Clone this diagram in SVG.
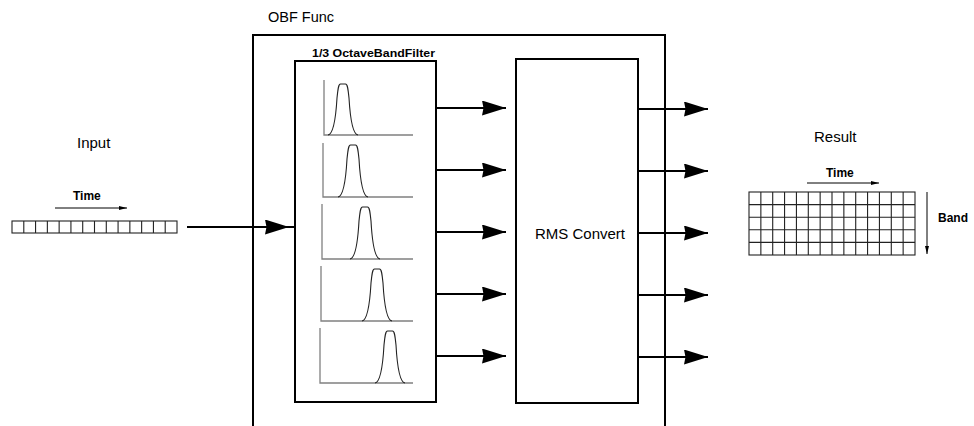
<svg xmlns="http://www.w3.org/2000/svg" width="974" height="426" viewBox="0 0 974 426">
<style>
text{font-family:"Liberation Sans",Arial,sans-serif;fill:#000}
.lbl{font-size:15px}
.sm{font-size:12px;font-weight:bold}
.box{fill:none;stroke:#000;stroke-width:2}
.cell{fill:none;stroke:#222;stroke-width:1.1}
.axis{fill:none;stroke:#808080;stroke-width:1.3}
.bell{fill:none;stroke:#222;stroke-width:1.1}
.conn{fill:none;stroke:#000;stroke-width:2}
.thin{fill:none;stroke:#000;stroke-width:1}
</style>
<defs>
<marker id="big" viewBox="0 0 24 15" refX="24" refY="7.5" markerWidth="24" markerHeight="15" markerUnits="userSpaceOnUse" orient="auto">
<path d="M0,0 L24,7.5 L0,15 L1.5,7.5 z" fill="#000"/>
</marker>
<marker id="small" viewBox="0 0 8 4" refX="8" refY="2" markerWidth="8" markerHeight="4" markerUnits="userSpaceOnUse" orient="auto">
<path d="M0,0 L8,2 L0,4 z" fill="#000"/>
</marker>
</defs>

<g id="input">
<text class="lbl" x="77" y="148">Input</text>
<text class="sm" x="73" y="200">Time</text>
<line class="thin" x1="55" y1="208" x2="127" y2="208" marker-end="url(#small)"/>
<rect class="cell" x="12" y="221" width="165" height="12"/>
<path class="cell" d="M23.79 221V233M35.57 221V233M47.36 221V233M59.14 221V233M70.93 221V233M82.71 221V233M94.5 221V233M106.29 221V233M118.07 221V233M129.86 221V233M141.64 221V233M153.43 221V233M165.21 221V233"/>
</g>

<g id="obf-func">
<text class="lbl" x="268" y="21.5" style="font-size:14.5px">OBF Func</text>
<path class="box" d="M253 426V35H665V426"/>
</g>

<g id="octave-filter">
<text x="312" y="57" style="font-size:11px;font-weight:bold" textLength="123" lengthAdjust="spacingAndGlyphs">1/3 OctaveBandFilter</text>
<rect class="box" x="295" y="61" width="141" height="341"/>
<path class="axis" d="M324 80V135H413M323 143V197H413M322 204V259H413M321 266V321H413M320 328V383H413"/>
<path class="bell" d="M328 135 C334 134,336 115,337 98 C338 88,338.5 84,340.5 84 L345.5 84 C347.5 84,348 88,349 98 C350 115,352 134,358 135"/>
<path class="bell" d="M338 197 C344 196,346 177,347 159 C348 149,348.5 145,350.5 145 L355.5 145 C357.5 145,358 149,359 159 C360 177,362 196,368 197"/>
<path class="bell" d="M350 259 C356 258,358 239,359 221 C360 211,360.5 207,362.5 207 L367.5 207 C369.5 207,370 211,371 221 C372 239,374 258,380 259"/>
<path class="bell" d="M362 321 C368 320,370 301,371 283 C372 273,372.5 269,374.5 269 L379.5 269 C381.5 269,382 273,383 283 C384 301,386 320,392 321"/>
<path class="bell" d="M375 383 C381 382,383 363,384 345 C385 335,385.5 331,387.5 331 L392.5 331 C394.5 331,395 335,396 345 C397 363,399 382,405 383"/>
</g>

<g id="rms-convert">
<rect class="box" x="516" y="59" width="122" height="344"/>
<text class="lbl" x="535" y="239">RMS Convert</text>
</g>

<g id="result">
<text class="lbl" x="814" y="141.5">Result</text>
<text class="sm" x="826" y="177">Time</text>
<line class="thin" x1="807" y1="183" x2="879" y2="183" marker-end="url(#small)"/>
<rect class="cell" x="749" y="192" width="166" height="63"/>
<path class="cell" d="M760.86 192V255M772.71 192V255M784.57 192V255M796.43 192V255M808.29 192V255M820.14 192V255M832 192V255M843.86 192V255M855.71 192V255M867.57 192V255M879.43 192V255M891.29 192V255M903.14 192V255M749 204.6H915M749 217.2H915M749 229.8H915M749 242.4H915"/>
<line class="thin" x1="927" y1="192" x2="927" y2="254" marker-end="url(#small)"/>
<text class="sm" x="938" y="222">Band</text>
</g>

<g id="connectors">
<line class="conn" x1="187" y1="227" x2="289" y2="227" marker-end="url(#big)"/>
<line class="conn" x1="288" y1="227" x2="295" y2="227"/>
<line class="conn" x1="436" y1="108" x2="506" y2="108" marker-end="url(#big)"/>
<line class="conn" x1="436" y1="170" x2="506" y2="170" marker-end="url(#big)"/>
<line class="conn" x1="436" y1="232" x2="506" y2="232" marker-end="url(#big)"/>
<line class="conn" x1="436" y1="294" x2="506" y2="294" marker-end="url(#big)"/>
<line class="conn" x1="436" y1="356" x2="506" y2="356" marker-end="url(#big)"/>
<line class="conn" x1="638" y1="109" x2="708" y2="109" marker-end="url(#big)"/>
<line class="conn" x1="638" y1="171" x2="708" y2="171" marker-end="url(#big)"/>
<line class="conn" x1="638" y1="233" x2="708" y2="233" marker-end="url(#big)"/>
<line class="conn" x1="638" y1="295" x2="708" y2="295" marker-end="url(#big)"/>
<line class="conn" x1="638" y1="357" x2="708" y2="357" marker-end="url(#big)"/>
</g>
</svg>
